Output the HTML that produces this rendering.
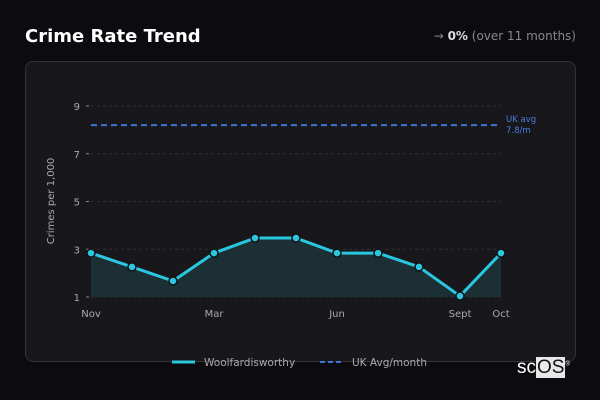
<!DOCTYPE html>
<html><head><meta charset="utf-8"><style>
html,body{margin:0;padding:0;background:#0c0b0f;width:600px;height:400px;overflow:hidden;font-family:"DejaVu Sans","Liberation Sans",sans-serif;}
#title{position:absolute;left:25px;top:26px;font-size:18px;font-weight:bold;color:#fff;}
#change{position:absolute;right:24px;top:29px;font-size:12px;color:#888;}
#change b{color:#ddd;}
#card{position:absolute;left:25px;top:61px;width:549px;height:299px;background:#18181c;border:1px solid #333338;border-radius:8px;}
svg{position:absolute;left:0;top:0;}
#logo{position:absolute;left:517px;top:357px;font-size:19px;color:#fff;font-family:"Liberation Sans",sans-serif;letter-spacing:0px;}
#logo span{background:#e8e8e8;color:#111;padding:0 1px;}
</style></head><body>
<div id="title">Crime Rate Trend</div>
<div id="change">→ <b>0%</b> (over 11 months)</div>
<div id="card"></div>
<svg id="chart" width="600" height="400"></svg>
<div id="logo">sc<span>OS</span><sup style="font-size:6px">®</sup></div>
<script>
const categories=["Nov","Dec","Jan","Mar","Apr","May","Jun","Jul","Aug","Sept","Oct"];
const tickLabels=["Nov","","","Mar","","","Jun","","","Sept","Oct"];
const values=[2.84,2.26,1.67,2.84,3.47,3.47,2.84,2.84,2.26,1.04,2.84];
const ukAvg=[8.2];
const yTicks=[1,3,5,7,9];
const NS="http://www.w3.org/2000/svg";
const svg=document.getElementById('chart');
const x0=91,x1=501,yBase=297,yTop=106,yMin=1,yMax=9;
function xs(i){return x0+(x1-x0)*i/(categories.length-1);}
function ys(v){return yBase-(v-yMin)*(yBase-yTop)/(yMax-yMin);}
function mk(t,a){const e=document.createElementNS(NS,t);for(const k in a)e.setAttribute(k,a[k]);svg.appendChild(e);return e;}
yTicks.forEach(v=>{
  const g=mk('line',{x1:x0,x2:x1,y1:ys(v),y2:ys(v),stroke:'#2e2e33','stroke-dasharray':'3,3'});
  
  
  const tk=mk('line',{x1:x0-5,x2:x0-2,y1:ys(v),y2:ys(v),stroke:'#888'});
  
  
  const t=mk('text',{x:x0-11,y:ys(v)+4,'text-anchor':'end','font-size':10,fill:'#aaa'});
  t.textContent=v;
  
  
});
const yt=mk('text',{x:0,y:0,transform:'translate(54,201) rotate(-90)','text-anchor':'middle','font-size':10,fill:'#aaa'});
yt.textContent='Crimes per 1,000';


tickLabels.forEach((l,i)=>{if(!l)return;
  const t=mk('text',{x:xs(i),y:317,'text-anchor':'middle','font-size':10,fill:'#aaa'});
  t.textContent=l;
  
  
});
let d='M'+xs(0)+','+yBase;values.forEach((v,i)=>d+=' L'+xs(i)+','+ys(v));d+=' L'+xs(values.length-1)+','+yBase+' Z';
const area=mk('path',{d:d,fill:'#1c3238',opacity:0.9});


const avg=mk('line',{x1:x0,x2:x1-4,y1:ys(ukAvg[0]),y2:ys(ukAvg[0]),stroke:'#3f73d8','stroke-width':2,'stroke-dasharray':'6,4'});


const al=mk('text',{x:506,y:ys(ukAvg[0])-3,'font-size':8.5,fill:'#4a7de0'});
al.textContent='UK avg';


const al2=mk('text',{x:506,y:ys(ukAvg[0])+8,'font-size':8.5,fill:'#4a7de0'});
al2.textContent='7.8/m';


const line=mk('polyline',{points:values.map((v,i)=>xs(i)+','+ys(v)).join(' '),fill:'none',stroke:'#2ac8e0','stroke-width':3,'stroke-linejoin':'round'});


values.forEach((v,i)=>{
  const c=mk('circle',{cx:xs(i),cy:ys(v),r:4,fill:'#2ac8e0',stroke:'#111','stroke-width':1.5});
  
  
});
const l1=mk('line',{x1:172,x2:195,y1:362,y2:362,stroke:'#2ac8e0','stroke-width':3});


const lt1=mk('text',{x:204,y:366,'font-size':10.5,fill:'#aaa'});
lt1.textContent='Woolfardisworthy';


const l2=mk('line',{x1:320,x2:344,y1:362,y2:362,stroke:'#3f73d8','stroke-width':2,'stroke-dasharray':'5,3'});


const lt2=mk('text',{x:352,y:366,'font-size':10.5,fill:'#aaa'});
lt2.textContent='UK Avg/month';


</script>
</body></html>
